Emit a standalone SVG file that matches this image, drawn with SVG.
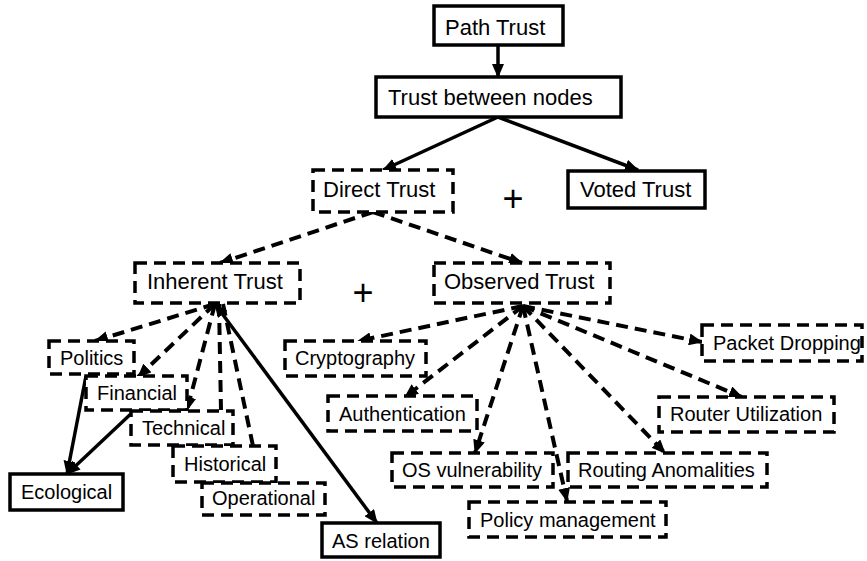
<svg xmlns="http://www.w3.org/2000/svg" width="867" height="561" viewBox="0 0 867 561">
<defs>
<style>
.box{fill:#fff;stroke:#000;stroke-width:3.5}
.dbox{fill:#fff;stroke:#000;stroke-width:3.5;stroke-dasharray:12,7}
.t{font-family:"Liberation Sans",Arial,sans-serif;font-size:20px;fill:#000}
.tl{font-family:"Liberation Sans",Arial,sans-serif;font-size:22px;fill:#000}
.plus{font-family:"Liberation Sans",Arial,sans-serif;font-size:36px;fill:#000;text-anchor:middle}
.c{fill:none;stroke:#000;stroke-width:3.5;marker-end:url(#ah)}
.d{fill:none;stroke:#000;stroke-width:4;stroke-dasharray:12,7;marker-end:url(#ah)}
.dn{fill:none;stroke:#000;stroke-width:4;stroke-dasharray:12,7}
</style>
<marker id="ah" markerUnits="userSpaceOnUse" markerWidth="14" markerHeight="12" refX="13" refY="6" orient="auto-start-reverse">
<path d="M0,0 L14,6 L0,12 z" fill="#000"/>
</marker>
</defs>
<rect width="867" height="561" fill="#fff"/>
<g id="connectors">
<line class="c" x1="498" y1="45" x2="498" y2="77"/>
<line class="c" x1="498" y1="117" x2="383" y2="170"/>
<line class="c" x1="498" y1="117" x2="638" y2="170"/>
<line class="d" x1="373" y1="212" x2="220" y2="263"/>
<line class="d" x1="373" y1="212" x2="522" y2="263"/>
<line class="d" x1="215" y1="304" x2="95" y2="341"/>
<line class="d" x1="215" y1="304" x2="138" y2="377"/>
<line class="d" x1="215" y1="304" x2="187" y2="410"/>
<line class="dn" x1="219" y1="304" x2="221" y2="410"/>
<line class="dn" x1="223" y1="304" x2="253" y2="446"/>
<line class="c" style="marker-start:url(#ah)" x1="215" y1="304" x2="377" y2="523"/>
<line class="c" x1="86" y1="376" x2="67" y2="474"/>
<line class="c" x1="135" y1="410" x2="67" y2="474"/>
<line class="d" x1="523" y1="306" x2="358" y2="341"/>
<line class="d" x1="523" y1="306" x2="405" y2="397"/>
<line class="d" x1="523" y1="306" x2="475" y2="453"/>
<line class="d" x1="523" y1="306" x2="567" y2="501"/>
<line class="d" x1="523" y1="306" x2="665" y2="453"/>
<line class="d" x1="523" y1="306" x2="742" y2="397"/>
<line class="d" x1="523" y1="306" x2="702" y2="342"/>
</g>
<g id="path-trust"><rect class="box" x="434" y="6" width="129" height="39"/><text class="tl" x="445" y="35">Path Trust</text></g>
<g id="trust-between-nodes"><rect class="box" x="376" y="77" width="245" height="40"/><text class="tl" x="388" y="105">Trust between nodes</text></g>
<g id="direct-trust"><rect class="dbox" x="313" y="170" width="140" height="42"/><text class="tl" x="323" y="197">Direct Trust</text></g>
<g id="voted-trust"><rect class="box" x="568" y="171" width="137" height="37"/><text class="tl" x="580" y="197">Voted Trust</text></g>
<text class="plus" x="513" y="211">+</text>
<g id="inherent-trust"><rect class="dbox" x="135" y="263" width="165" height="40"/><text class="tl" x="147" y="289">Inherent Trust</text></g>
<g id="observed-trust"><rect class="dbox" x="434" y="263" width="176" height="40"/><text class="tl" x="444" y="289">Observed Trust</text></g>
<text class="plus" x="363" y="305">+</text>
<g id="politics"><rect class="dbox" x="49" y="341" width="85" height="33"/><text class="t" x="60" y="365">Politics</text></g>
<g id="financial"><rect class="dbox" x="86" y="376" width="101" height="34"/><text class="t" x="97" y="400">Financial</text></g>
<g id="technical"><rect class="dbox" x="131" y="411" width="102" height="34"/><text class="t" x="142" y="435">Technical</text></g>
<g id="historical"><rect class="dbox" x="173" y="446" width="103" height="36"/><text class="t" x="184" y="471">Historical</text></g>
<g id="operational"><rect class="dbox" x="202" y="483" width="123" height="32"/><text class="t" x="212" y="505">Operational</text></g>
<g id="ecological"><rect class="box" x="10" y="474" width="113" height="36"/><text class="t" x="21" y="499">Ecological</text></g>
<g id="as-relation"><rect class="box" x="322" y="523" width="118" height="34"/><text class="t" x="332" y="548">AS relation</text></g>
<g id="cryptography"><rect class="dbox" x="285" y="341" width="141" height="35"/><text class="t" x="295" y="365">Cryptography</text></g>
<g id="authentication"><rect class="dbox" x="328" y="396" width="149" height="35"/><text class="t" x="339" y="421">Authentication</text></g>
<g id="os-vulnerability"><rect class="dbox" x="392" y="453" width="161" height="34"/><text class="t" x="402" y="477">OS vulnerability</text></g>
<g id="routing-anomalities"><rect class="dbox" x="568" y="453" width="199" height="34"/><text class="t" x="578" y="477">Routing Anomalities</text></g>
<g id="policy-management"><rect class="dbox" x="469" y="502" width="197" height="35"/><text class="t" x="480" y="527">Policy management</text></g>
<g id="router-utilization"><rect class="dbox" x="659" y="397" width="175" height="35"/><text class="t" x="670" y="421">Router Utilization</text></g>
<g id="packet-dropping"><rect class="dbox" x="702" y="325" width="160" height="36"/><text class="t" x="713" y="350">Packet Dropping</text></g>
</svg>
